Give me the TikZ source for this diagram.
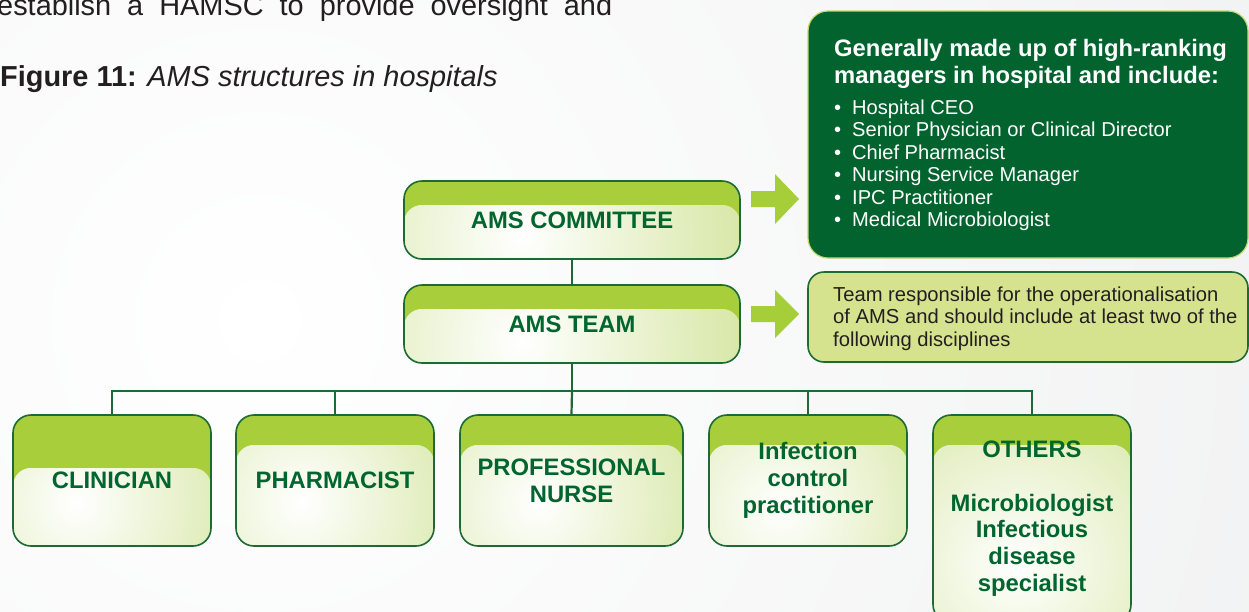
\documentclass[tikz,border=0pt]{standalone}
\usepackage{fontspec}
\setmainfont{Liberation Sans}
\usetikzlibrary{calc}
\definecolor{bggray}{HTML}{ECEDEE}
\definecolor{band}{HTML}{A8CF3B}
\definecolor{pale}{HTML}{D1E398}
\definecolor{edge}{HTML}{1C6A34}
\definecolor{lbl}{HTML}{00652E}
\definecolor{darkg}{HTML}{03632F}
\definecolor{darkedge}{HTML}{C2D86B}
\definecolor{descfill}{HTML}{D5E38E}
\definecolor{txt}{HTML}{231F20}
\definecolor{arrowg}{HTML}{A6CE39}
\newcommand\lblfont{\fontsize{23.8}{26.7}\selectfont\bfseries}
\newcommand\capfont{\fontsize{28.9}{32}\selectfont}
\newcommand\titlefont{\fontsize{23.8}{27}\selectfont\bfseries}
\newcommand\bulfont{\fontsize{20.1}{22.4}\selectfont}
\newcommand\descfont{\fontsize{20.2}{22.4}\selectfont}
\newcommand\bul{\makebox[18pt][l]{\textbullet}}
\tikzset{
  goff/.store in=\goff, goff=30,
  hx/.store in=\hx, hx=0.35,
  hy/.store in=\hy, hy=0.68,
  hr/.store in=\hr, hr=210,
  orgbox/.style={draw=edge, line width=1.6pt, fill=band, rounded corners=18pt,
    inner sep=0pt, font=\lblfont, text=lbl, align=center,
    path picture={
      \begin{scope}
        \path[clip, rounded corners=18pt]
          ([yshift=-\goff pt]path picture bounding box.north west)
          rectangle (path picture bounding box.south east);
        \fill[pale] (path picture bounding box.south west)
          rectangle (path picture bounding box.north east);
        \coordinate (hA) at ($(path picture bounding box.north west)!\hx!(path picture bounding box.north east)$);
        \coordinate (hB) at ($(path picture bounding box.north west)!\hy!(path picture bounding box.south west)$);
        \shade[inner color=white, outer color=pale] (hA |- hB) circle (\hr pt);
      \end{scope}
    }},
  conn/.style={draw=edge, line width=2.2pt},
  linetext/.style={anchor=base west, inner sep=0pt},
}
\begin{document}
\begin{tikzpicture}[x=1pt, y=-1pt]
\useasboundingbox (0,0) rectangle (1249,611);
% background
\begin{scope}
  \clip (0,0) rectangle (1249,611);
  \fill[bggray] (0,0) rectangle (1249,611);
  \shade[inner color=white, outer color=bggray] (260,320) circle (1500);
\end{scope}

% caption texts
\node[linetext, font=\capfont, text=txt] (toptext) at (-3,15)
  {\makebox[615pt][s]{establish a HAMSC to provide oversight and}};
\node[linetext, font=\capfont, text=txt] (caption) at (0,86)
  {\textbf{Figure 11:} \textit{AMS structures in hospitals}};

% main boxes
\node[orgbox, minimum width=336pt, minimum height=78pt, goff=24, hx=0.35, hy=0.72, hr=260] (com) at (572,220) {AMS COMMITTEE};
\node[orgbox, minimum width=336pt, minimum height=78pt, goff=24, hx=0.35, hy=0.72, hr=260] (team) at (572,324) {AMS TEAM};

% bottom boxes
\node[orgbox, minimum width=198pt, minimum height=131pt, goff=53, hx=0.32, hy=0.67] (clin) at (112,480.5) {CLINICIAN};
\node[orgbox, minimum width=198pt, minimum height=131pt, goff=30, hx=0.33, hy=0.67] (pharm) at (335,480.5) {PHARMACIST};
\node[orgbox, minimum width=223pt, minimum height=131pt, goff=30, hx=0.35, hy=0.67] (nurse) at (571.5,480.5) {PROFESSIONAL\\NURSE};
\node[orgbox, minimum width=198pt, minimum height=131pt, goff=30, hx=0.36, hy=0.72] (infect) at (808,480.5) {Infection\\control\\practitioner};
\node[orgbox, minimum width=198pt, minimum height=207.5pt, goff=30, hx=0.43, hy=0.72, hr=240] (others) at (1032,518.75) {OTHERS\\[26.7pt]Microbiologist\\Infectious\\disease\\specialist};

% connectors
\draw[conn] (com.south) -- (team.north);
\coordinate (bus) at (572,391);
\draw[conn] (team.south) -- (bus);
\draw[conn] (bus) -| (clin.north);
\draw[conn] (bus) -| (pharm.north);
\draw[conn] (bus) -- (nurse.north);
\draw[conn] (bus) -| (infect.north);
\draw[conn] (bus) -| (others.north);

% info boxes
\node[draw=darkedge, line width=1.2pt, fill=darkg, rounded corners=20pt,
  minimum width=440pt, minimum height=247pt, inner sep=0pt] (cominfo) at (1028,134.5) {};
\node[draw=edge, line width=1.6pt, fill=descfill, rounded corners=16pt,
  minimum width=440pt, minimum height=90pt, inner sep=0pt] (teaminfo) at (1028,317) {};

% block arrows
\coordinate (a1) at (751,199);
\coordinate (a2) at (751,314);
\fill[arrowg] (a1) ++(0,-8) -- ++(24,0) -- ++(0,-17) -- ++(24,25) -- ++(-24,25) -- ++(0,-17) -- ++(-24,0) -- cycle;
\fill[arrowg] (a2) ++(0,-8) -- ++(24,0) -- ++(0,-16) -- ++(24,24) -- ++(-24,24) -- ++(0,-16) -- ++(-24,0) -- cycle;

% committee info text
\node[linetext, font=\titlefont, text=white] (ti1) at (834,56) {Generally made up of high-ranking};
\node[linetext, font=\titlefont, text=white] (ti2) at (834,83) {managers in hospital and include:};
\node[linetext, font=\bulfont, text=white] (bu1) at (834,114) {\bul Hospital CEO};
\node[linetext, font=\bulfont, text=white] (bu2) at (834,136.5) {\bul Senior Physician or Clinical Director};
\node[linetext, font=\bulfont, text=white] (bu3) at (834,159) {\bul Chief Pharmacist};
\node[linetext, font=\bulfont, text=white] (bu4) at (834,181.5) {\bul Nursing Service Manager};
\node[linetext, font=\bulfont, text=white] (bu5) at (834,204) {\bul IPC Practitioner};
\node[linetext, font=\bulfont, text=white] (bu6) at (834,226.5) {\bul Medical Microbiologist};

% team info text
\node[linetext, font=\descfont, text=txt] (de1) at (833,301) {Team responsible for the operationalisation};
\node[linetext, font=\descfont, text=txt] (de2) at (833,323.5) {of AMS and should include at least two of the};
\node[linetext, font=\descfont, text=txt] (de3) at (833,346) {following disciplines};
\end{tikzpicture}
\end{document}
